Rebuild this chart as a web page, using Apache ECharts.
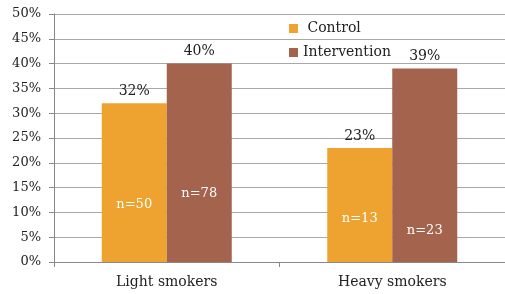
<!DOCTYPE html>
<html>
<head>
<meta charset="utf-8">
<script src="https://cdn.jsdelivr.net/npm/echarts@6/dist/echarts.min.js"></script>
<style>
  html, body { margin: 0; padding: 0; background: #fff; }
  #myChart { width: 505px; height: 294px; }
</style>
</head>
<body>
<div id="myChart"></div>
<script>
// data
const categories = ['Light smokers', 'Heavy smokers'];
const controlValues = [32, 23];
const interventionValues = [40, 39];
const controlN = ['n=50', 'n=13'];
const interventionN = ['n=78', 'n=23'];
const yTicks = [0, 5, 10, 15, 20, 25, 30, 35, 40, 45, 50];

const serif = 'DejaVu Serif';

// where the n= labels sit inside each bar (value units)
function nMarks(labels, heights) {
  return labels.map(function (t, i) {
    return {
      coord: [i, heights[i]],
      symbolSize: 0,
      label: { show: true, formatter: t, color: '#fff', fontFamily: serif, fontSize: 13 }
    };
  });
}

let myChart = echarts.init(document.getElementById('myChart'));

myChart.setOption({
  animation: false,
  backgroundColor: '#fff',
  color: ['#EEA330', '#A3634D'],
  grid: { left: 54, width: 455, top: 14, bottom: 32 },
  legend: {
    orient: 'vertical',
    left: 284,
    top: 16,
    itemWidth: 9,
    itemHeight: 9,
    itemGap: 9,
    icon: 'rect',
    formatter: function (name) { return name === 'Control' ? ' ' + name : name; },
    textStyle: { fontFamily: serif, fontSize: 14, color: '#222', lineHeight: 15 }
  },
  xAxis: {
    type: 'category',
    data: categories,
    axisLine: { lineStyle: { color: '#888' } },
    axisTick: { show: true, length: 5, lineStyle: { color: '#888' } },
    axisLabel: { fontFamily: serif, fontSize: 14, color: '#222', margin: 13 }
  },
  yAxis: {
    type: 'value',
    min: yTicks[0],
    max: yTicks[yTicks.length - 1],
    interval: 5,
    axisLine: { show: true, lineStyle: { color: '#888' } },
    axisTick: { show: true, length: 5, lineStyle: { color: '#888' } },
    splitLine: { lineStyle: { color: '#A8A8A8' } },
    axisLabel: { fontFamily: serif, fontSize: 13, color: '#222', margin: 13, formatter: '{value}%' }
  },
  series: [
    {
      name: 'Control',
      type: 'bar',
      data: controlValues,
      barWidth: 65,
      barGap: '0%',
      label: { show: true, position: 'top', distance: 5, formatter: '{c}%', fontFamily: serif, fontSize: 14, color: '#222' },
      markPoint: { data: nMarks(controlN, [11.5, 8.8]) }
    },
    {
      name: 'Intervention',
      type: 'bar',
      data: interventionValues,
      barWidth: 65,
      label: { show: true, position: 'top', distance: 5, formatter: '{c}%', fontFamily: serif, fontSize: 14, color: '#222' },
      markPoint: { data: nMarks(interventionN, [13.7, 6.3]) }
    }
  ]
});
</script>
</body>
</html>
